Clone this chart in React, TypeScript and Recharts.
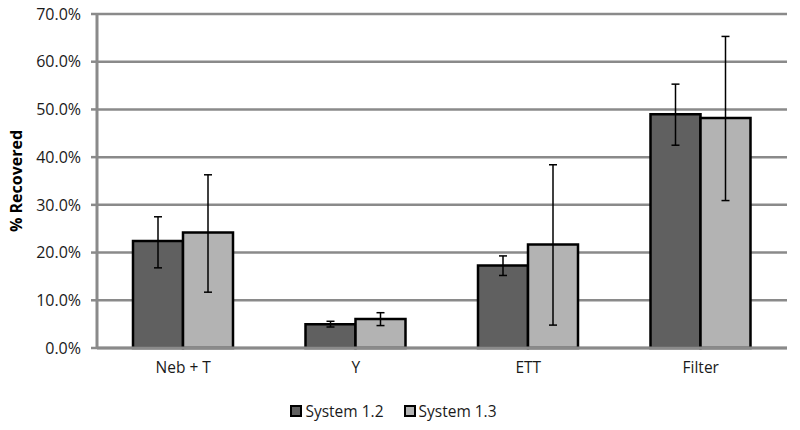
import { BarChart, Bar, XAxis, YAxis, CartesianGrid, ErrorBar, Legend } from "recharts";

const categories = ["Neb + T", "Y", "ETT", "Filter"];
const system12 = [22.4, 5.0, 17.3, 49.0];
const system12Err = [[5.6, 5.1], [0.6, 0.6], [2.1, 2.0], [6.5, 6.3]];
const system13 = [24.2, 6.1, 21.7, 48.2];
const system13Err = [[12.5, 12.1], [1.4, 1.3], [16.9, 16.7], [17.3, 17.1]];
const yTicks = [0, 10, 20, 30, 40, 50, 60, 70];

const data = categories.map((name, i) => ({
  name,
  s12: system12[i],
  s12Err: system12Err[i],
  s13: system13[i],
  s13Err: system13Err[i],
}));

const FONT = "'Open Sans', sans-serif";
const GRID = "#8a8a8a";

function LegendBox() {
  const items = [
    { label: "System 1.2", color: "#606060" },
    { label: "System 1.3", color: "#b3b3b3" },
  ];
  return (
    <div style={{ display: "flex", justifyContent: "center", gap: 20, fontFamily: FONT, fontSize: 15.5, color: "#1a1a1a" }}>
      {items.map((it) => (
        <div key={it.label} style={{ display: "flex", alignItems: "center", gap: 3 }}>
          <span style={{ width: 8, height: 8, background: it.color, border: "2px solid #000", display: "inline-block" }} />
          <span>{it.label}</span>
        </div>
      ))}
    </div>
  );
}

export default function App() {
  return (
    <div style={{ position: "absolute", left: 0, top: 0, width: 800, height: 430, background: "#fff" }}>
      <BarChart
        width={800}
        height={430}
        data={data}
        margin={{ top: 14, right: 13, left: 0, bottom: 0 }}
        barGap={0}
      >
        <CartesianGrid vertical={false} stroke={GRID} strokeWidth={2.5} />
        <XAxis xAxisId="t" type="number" domain={[0, 4]} ticks={[0, 1, 2, 3, 4]} height={0}
          axisLine={false} tickLine={{ stroke: GRID, strokeWidth: 2 }} tickSize={5}
          tickFormatter={() => ""} allowDataOverflow />
        <XAxis dataKey="name" height={60} tickLine={false} axisLine={{ stroke: GRID, strokeWidth: 3 }}
          tick={{ fill: "#1a1a1a", fontFamily: FONT, fontSize: 15.5 }} tickMargin={8} />
        <YAxis
          width={97}
          domain={[0, 70]}
          ticks={yTicks}
          interval={0}
          tickFormatter={(v) => `${v.toFixed(1)}%`}
          axisLine={{ stroke: GRID, strokeWidth: 3 }}
          tickLine={{ stroke: GRID, strokeWidth: 2.5 }}
          tickSize={6}
          tickMargin={10}
          tick={{ fill: "#1a1a1a", fontFamily: FONT, fontSize: 16 }}
          label={{ value: "% Recovered", angle: -90, position: "insideLeft", offset: 16,
            style: { fontFamily: FONT, fontSize: 16, fontWeight: "bold", fill: "#000", textAnchor: "middle" } }}
        />
        <Legend verticalAlign="bottom" content={<LegendBox />} wrapperStyle={{ bottom: 8 }} />
        <Bar dataKey="s12" name="System 1.2" fill="#606060" stroke="#000" strokeWidth={2.5} barSize={50} isAnimationActive={false}>
          <ErrorBar dataKey="s12Err" width={4} stroke="#000" strokeWidth={1.5} />
        </Bar>
        <Bar dataKey="s13" name="System 1.3" fill="#b3b3b3" stroke="#000" strokeWidth={2.5} barSize={50} isAnimationActive={false}>
          <ErrorBar dataKey="s13Err" width={4} stroke="#000" strokeWidth={1.5} />
        </Bar>
      </BarChart>
    </div>
  );
}
